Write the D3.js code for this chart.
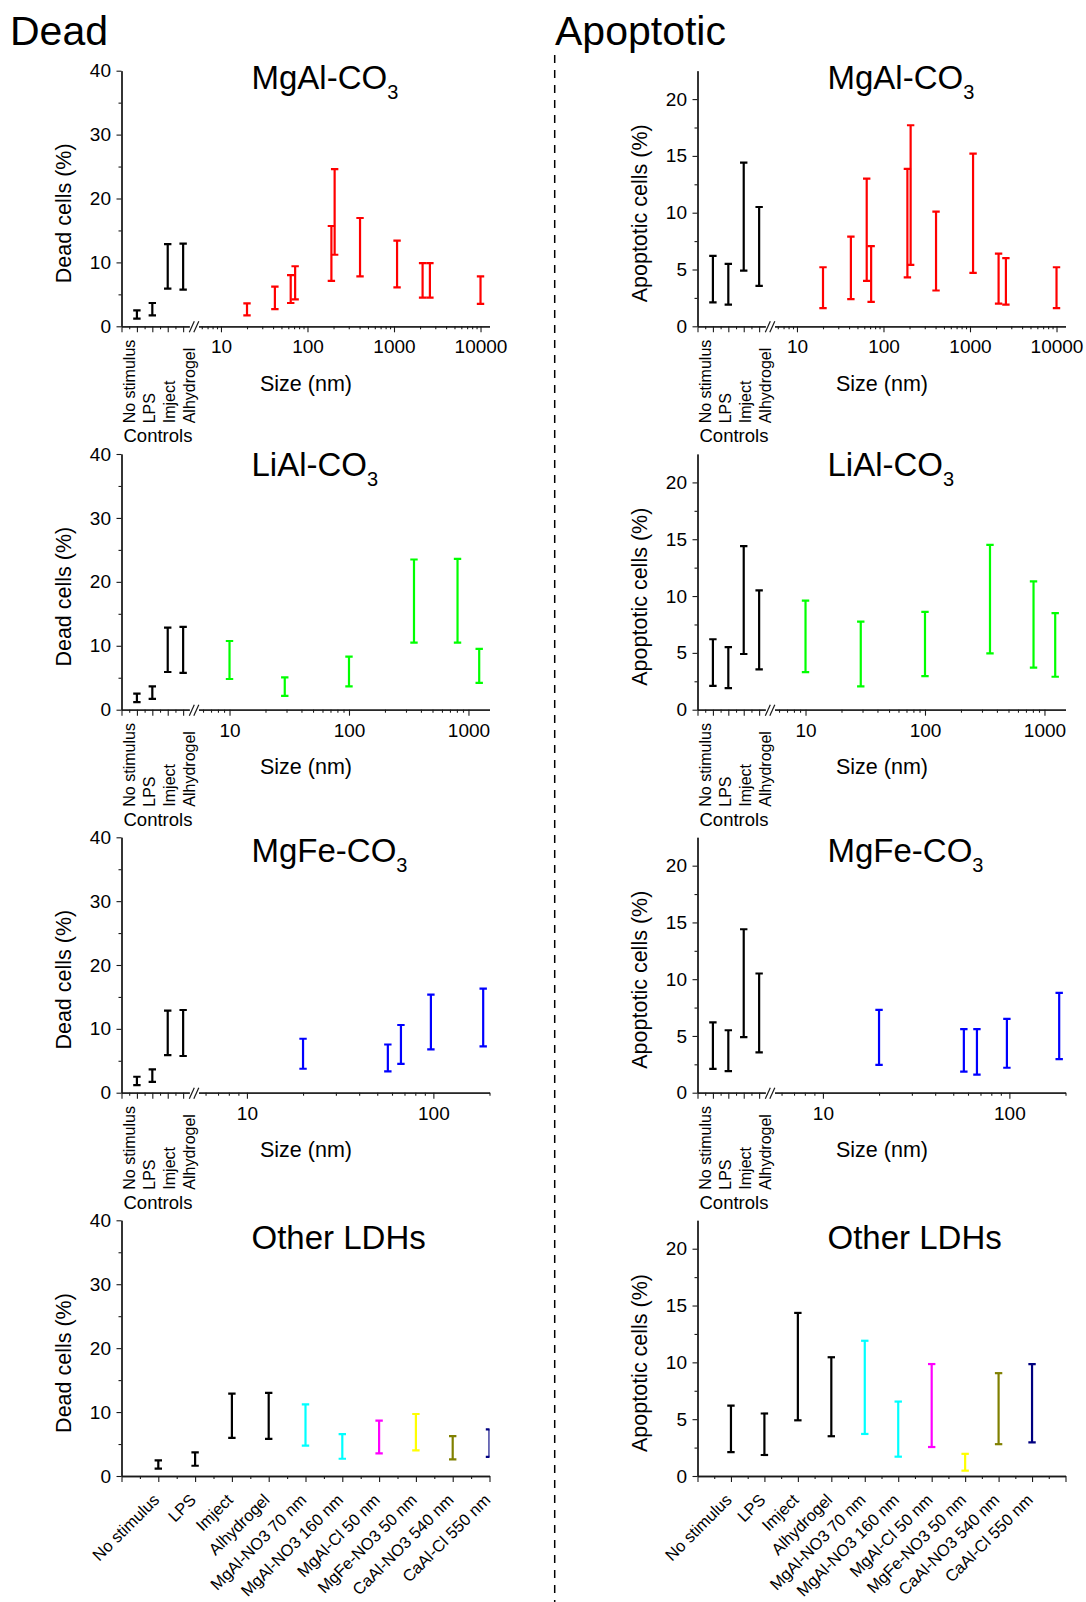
<!DOCTYPE html>
<html><head><meta charset="utf-8">
<script src="https://cdn.jsdelivr.net/npm/d3@7"></script>
<style>
body{margin:0;background:#fff}
text{font-family:"Liberation Sans",Arial,Helvetica,sans-serif;fill:#000}
</style>
</head><body><script>
// ---------------- DATA ----------------
const controlLabels = ["No stimulus", "LPS", "Imject", "Alhydrogel"];
const deadCtrlLow  = [1.2, 1.7, 5.9, 5.75];
const deadCtrlHigh = [2.5, 3.65, 12.85, 12.95];
const apoCtrlLow   = [2.1, 1.9, 4.9, 3.55];
const apoCtrlHigh  = [6.2, 5.5, 14.4, 10.5];

const mgalSizes    = [20, 42, 64, 72, 189, 206, 405, 1085, 2140, 2600, 10000];
const mgalDeadLow  = [1.7, 2.7, 3.65, 4.2, 7.1, 11.2, 7.8, 6.1, 4.5, 4.5, 3.5];
const mgalDeadHigh = [3.6, 6.2, 8.0, 9.4, 15.7, 24.6, 16.95, 13.4, 9.9, 9.9, 7.8];
const mgalApoLow   = [1.6, 2.4, 4.0, 2.15, 4.3, 5.4, 3.15, 4.7, 2.0, 1.9, 1.6];
const mgalApoHigh  = [5.2, 7.9, 13.0, 7.05, 13.85, 17.7, 10.1, 15.2, 6.4, 6.0, 5.2];

const lialSizes    = [10, 29, 100, 350, 810, 1230];
const lialDeadLow  = [4.8, 2.15, 3.65, 10.5, 10.5, 4.2];
const lialDeadHigh = [10.75, 5.05, 8.3, 23.5, 23.6, 9.5];
const lialApoLow   = [3.3, 2.05, 2.95, 4.95, 3.7, 2.9];
const lialApoHigh  = [9.6, 7.75, 8.6, 14.5, 11.3, 8.5];

const mgfeSizes    = [20, 57, 67, 97, 185];
const mgfeDeadLow  = [3.75, 3.35, 4.5, 6.8, 7.25];
const mgfeDeadHigh = [8.45, 7.55, 10.6, 15.35, 16.3];
const mgfeApoLow   = [2.45, 1.85, 1.6, 2.2, 2.95];
const mgfeApoHigh  = [7.3, 5.6, 5.6, 6.5, 8.8];

const otherLabels   = ["No stimulus", "LPS", "Imject", "Alhydrogel", "MgAl-NO3 70 nm", "MgAl-NO3 160 nm",
                       "MgAl-Cl 50 nm", "MgFe-NO3 50 nm", "CaAl-NO3 540 nm", "CaAl-Cl 550 nm"];
const otherColors   = ["#000000", "#000000", "#000000", "#000000", "#00ffff", "#00ffff",
                       "#ff00ff", "#ffff00", "#808000", "#000080"];
const otherDeadLow  = [1.15, 1.6, 5.95, 5.8, 4.75, 2.7, 3.55, 4.0, 2.6, 3.0];
const otherDeadHigh = [2.45, 3.7, 12.9, 13.0, 11.2, 6.55, 8.65, 9.7, 6.25, 7.3];
const otherApoLow   = [2.1, 1.85, 4.9, 3.5, 3.7, 1.7, 2.55, 0.47, 2.8, 2.95];
const otherApoHigh  = [6.2, 5.5, 14.35, 10.45, 11.9, 6.55, 9.85, 1.95, 9.05, 9.85];

const deadTicks = [0, 10, 20, 30, 40];
const deadMinor = [5, 15, 25, 35];
const apoTicks  = [0, 5, 10, 15, 20];
const apoMinor  = [2.5, 7.5, 12.5, 17.5];

// ---------------- LAYOUT ----------------
const W = 1086, H = 1602;
const svg = d3.select("body").append("svg").attr("width", W).attr("height", H);
const AX = [121.5, 697.5];       // y-axis x for left / right column
const PW = 368;                  // plot width
const ROWS = [
  {top: 70.7, y0: 326.3, titleY: 89.3},
  {top: 454, y0: 709.7, titleY: 476},
  {top: 837.3, y0: 1092.7, titleY: 862.3},
  {top: 1220.3, y0: 1476, titleY: 1249}
];
const CTRL_END = 67.8, LOG_START = 77;
const AXIS_COL = "#1a1a1a";

svg.append("text").attr("x", 10).attr("y", 45).attr("font-size", 41).text("Dead");
svg.append("text").attr("x", 555).attr("y", 45).attr("font-size", 41).text("Apoptotic");
svg.append("line").attr("x1", 554.7).attr("x2", 554.7).attr("y1", 55).attr("y2", H)
  .attr("stroke", "#000").attr("stroke-width", 1.5).attr("stroke-dasharray", "8,7");

let clipId = 0;
function styleAxis(sel) {
  sel.select(".domain").attr("stroke", AXIS_COL).attr("stroke-width", 1.3);
  sel.selectAll(".tick line").attr("stroke", AXIS_COL).attr("stroke-width", 1.1);
  sel.selectAll(".tick text").attr("fill", "#000").attr("font-family", null);
}

function errBars(g, xs, lows, highs, colors, y) {
  const cap = 3.7;
  xs.forEach((x, i) => {
    const c = Array.isArray(colors) ? colors[i] : colors;
    const yl = y(lows[i]), yh = y(highs[i]);
    const b = g.append("g").attr("stroke", c).attr("stroke-width", 2.2).attr("fill", "none");
    b.append("line").attr("x1", x).attr("x2", x).attr("y1", yl).attr("y2", yh);
    b.append("line").attr("x1", x - cap).attr("x2", x + cap).attr("y1", yl).attr("y2", yl);
    b.append("line").attr("x1", x - cap).attr("x2", x + cap).attr("y1", yh).attr("y2", yh);
  });
}

function panel(o) {
  const x0 = o.x0, r = o.row, y0 = r.y0;
  const g = svg.append("g");
  const y = d3.scaleLinear().domain([0, o.yMax]).range([y0, r.top]);

  // title
  const t = g.append("text").attr("x", x0 + 130).attr("y", r.titleY).attr("font-size", 33);
  t.append("tspan").text(o.title);
  if (o.sub) t.append("tspan").attr("font-size", 20).attr("dy", 10).text(o.sub);

  // y title
  g.append("text").attr("transform", `translate(${x0 - 51},${y0 - 113}) rotate(-90)`)
    .attr("text-anchor", "middle").attr("font-size", 21.5).text(o.yTitle);

  // clip
  const cid = "clip" + (clipId++);
  svg.append("clipPath").attr("id", cid).append("rect")
    .attr("x", x0).attr("y", r.top - 10).attr("width", PW).attr("height", y0 - r.top + 10);
  const marks = g.append("g").attr("clip-path", `url(#${cid})`);

  if (o.type === "log") {
    const xc = d3.scaleLinear().domain([0, 4.4]).range([x0, x0 + CTRL_END]);
    const xl = d3.scaleLog().domain([5.5, o.logMax]).range([x0 + LOG_START, x0 + PW]);
    // controls axis
    const a1 = g.append("g").attr("transform", `translate(0,${y0})`)
      .call(d3.axisBottom(xc).tickValues([0, 1, 2, 3, 4]).tickSize(6).tickSizeOuter(0).tickFormat(""));
    styleAxis(a1);
    const a1m = g.append("g").attr("transform", `translate(0,${y0})`)
      .call(d3.axisBottom(xc).tickValues([0.5, 1.5, 2.5, 3.5]).tickSize(3).tickSizeOuter(0).tickFormat(""));
    styleAxis(a1m);
    // log axis
    const maj = [], mnr = [];
    for (let p = 0; p <= 5; p++) for (let k = 1; k <= 9; k++) {
      const v = k * Math.pow(10, p);
      if (v < 5.5 || v > o.logMax) continue;
      (k === 1 ? maj : mnr).push(v);
    }
    const a2 = g.append("g").attr("transform", `translate(0,${y0})`)
      .call(d3.axisBottom(xl).tickValues(maj).tickSize(6).tickSizeOuter(0).tickFormat(d3.format("d")));
    styleAxis(a2);
    a2.selectAll(".tick text").attr("font-size", 19).attr("y", 27).attr("dy", 0);
    const a2m = g.append("g").attr("transform", `translate(0,${y0})`)
      .call(d3.axisBottom(xl).tickValues(mnr).tickSize(3).tickSizeOuter(0).tickFormat(""));
    styleAxis(a2m);
    // break marks
    const bx = x0 + CTRL_END;
    g.append("rect").attr("x", bx + 1).attr("y", y0 - 2).attr("width", LOG_START - CTRL_END - 2).attr("height", 4).attr("fill", "#fff");
    [0, 4.5].forEach(d => g.append("line").attr("x1", bx + d).attr("y1", y0 + 6).attr("x2", bx + d + 5).attr("y2", y0 - 5)
      .attr("stroke", AXIS_COL).attr("stroke-width", 1.2));
    // control labels
    const offs = [13.5, 33.5, 53.5, 73.5];
    controlLabels.forEach((lab, i) => {
      g.append("text").attr("transform", `translate(${x0 + offs[i]},${y0 + 97}) rotate(-90)`)
        .attr("font-size", 16).text(lab);
    });
    g.append("text").attr("x", x0 + 2).attr("y", y0 + 116).attr("font-size", 18.5).text("Controls");
    g.append("text").attr("x", x0 + 184.5).attr("y", y0 + 64.5).attr("text-anchor", "middle")
      .attr("font-size", 21.5).text("Size (nm)");
    // marks
    errBars(marks, [1, 2, 3, 4].map(xc), o.ctrlLow, o.ctrlHigh, "#000", y);
    errBars(marks, o.sizes.map(xl), o.low, o.high, o.color, y);
  } else {
    const xb = d3.scaleLinear().domain([0, o.nSlots]).range([x0, x0 + PW]);
    const ints = d3.range(0, o.nSlots + 1), halves = d3.range(0, o.nSlots).map(d => d + 0.5);
    const a = g.append("g").attr("transform", `translate(0,${y0})`)
      .call(d3.axisBottom(xb).tickValues(ints).tickSize(6).tickSizeOuter(0).tickFormat(""));
    styleAxis(a);
    const am = g.append("g").attr("transform", `translate(0,${y0})`)
      .call(d3.axisBottom(xb).tickValues(halves).tickSize(3).tickSizeOuter(0).tickFormat(""));
    styleAxis(am);
    otherLabels.forEach((lab, i) => {
      g.append("text").attr("transform", `translate(${xb(i + 1) + 2},${y0 + 25}) rotate(-45)`)
        .attr("text-anchor", "end").attr("font-size", 16.5).text(lab);
    });
    errBars(marks, otherLabels.map((d, i) => xb(i + 1)), o.low, o.high, otherColors, y);
  }

  // y axis (drawn last)
  const ay = g.append("g").attr("transform", `translate(${x0},0)`)
    .call(d3.axisLeft(y).tickValues(o.yTicks).tickSize(5).tickPadding(5.5).tickSizeOuter(0));
  styleAxis(ay);
  ay.selectAll(".tick text").attr("font-size", 19);
  const aym = g.append("g").attr("transform", `translate(${x0},0)`)
    .call(d3.axisLeft(y).tickValues(o.yMinor).tickSize(3).tickSizeOuter(0).tickFormat(""));
  styleAxis(aym);
}

const dead = {yMax: 40, yTicks: deadTicks, yMinor: deadMinor, yTitle: "Dead cells (%)", ctrlLow: deadCtrlLow, ctrlHigh: deadCtrlHigh};
const apo  = {yMax: 22.5, yTicks: apoTicks, yMinor: apoMinor, yTitle: "Apoptotic cells (%)", ctrlLow: apoCtrlLow, ctrlHigh: apoCtrlHigh};

const logRows = [
  {title: "MgAl-CO", sub: "3", logMax: 12700, color: "#ff0000", sizes: mgalSizes,
   d: [mgalDeadLow, mgalDeadHigh], a: [mgalApoLow, mgalApoHigh]},
  {title: "LiAl-CO", sub: "3", logMax: 1500, color: "#00ff00", sizes: lialSizes,
   d: [lialDeadLow, lialDeadHigh], a: [lialApoLow, lialApoHigh]},
  {title: "MgFe-CO", sub: "3", logMax: 200, color: "#0000ff", sizes: mgfeSizes,
   d: [mgfeDeadLow, mgfeDeadHigh], a: [mgfeApoLow, mgfeApoHigh]}
];
logRows.forEach((lr, ri) => {
  panel(Object.assign({}, dead, lr, {type: "log", x0: AX[0], row: ROWS[ri], low: lr.d[0], high: lr.d[1]}));
  panel(Object.assign({}, apo, lr, {type: "log", x0: AX[1], row: ROWS[ri], low: lr.a[0], high: lr.a[1]}));
});
panel(Object.assign({}, dead, {type: "cat", title: "Other LDHs", nSlots: 10, x0: AX[0], row: ROWS[3], low: otherDeadLow, high: otherDeadHigh}));
panel(Object.assign({}, apo, {type: "cat", title: "Other LDHs", nSlots: 11, x0: AX[1], row: ROWS[3], low: otherApoLow, high: otherApoHigh}));
</script></body></html>
